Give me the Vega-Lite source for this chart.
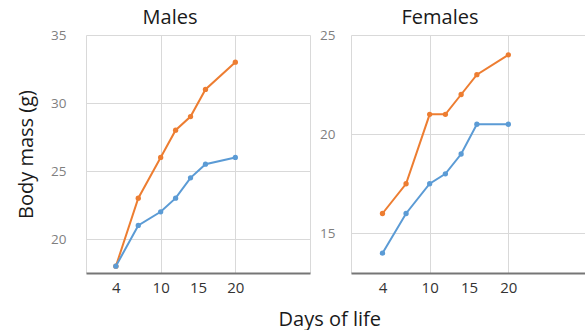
{
  "$schema": "https://vega.github.io/schema/vega-lite/v6.json",
  "background": "white",
  "padding": {"left": 16, "top": 8, "right": 0, "bottom": 0},
  "config": {
    "view": {"stroke": null},
    "font": "Open Sans",
    "concat": {"spacing": 9},
    "title": {"fontSize": 20, "fontWeight": "normal", "color": "#1a1a1a", "font": "Open Sans"},
    "axis": {"gridColor": "#d9d9d9", "gridWidth": 1, "ticks": false}
  },
  "title": {"text": "Days of life", "orient": "bottom", "anchor": "middle", "dx": 28, "offset": 15, "fontSize": 20, "fontWeight": "normal", "color": "#1a1a1a"},
  "data": {
    "values": [
      {"sex": "Males", "series": "Series 1", "day": 4, "mass": 18},
      {"sex": "Males", "series": "Series 1", "day": 7, "mass": 23},
      {"sex": "Males", "series": "Series 1", "day": 10, "mass": 26},
      {"sex": "Males", "series": "Series 1", "day": 12, "mass": 28},
      {"sex": "Males", "series": "Series 1", "day": 14, "mass": 29},
      {"sex": "Males", "series": "Series 1", "day": 16, "mass": 31},
      {"sex": "Males", "series": "Series 1", "day": 20, "mass": 33},
      {"sex": "Males", "series": "Series 2", "day": 4, "mass": 18},
      {"sex": "Males", "series": "Series 2", "day": 7, "mass": 21},
      {"sex": "Males", "series": "Series 2", "day": 10, "mass": 22},
      {"sex": "Males", "series": "Series 2", "day": 12, "mass": 23},
      {"sex": "Males", "series": "Series 2", "day": 14, "mass": 24.5},
      {"sex": "Males", "series": "Series 2", "day": 16, "mass": 25.5},
      {"sex": "Males", "series": "Series 2", "day": 20, "mass": 26},
      {"sex": "Females", "series": "Series 1", "day": 4, "mass": 16},
      {"sex": "Females", "series": "Series 1", "day": 7, "mass": 17.5},
      {"sex": "Females", "series": "Series 1", "day": 10, "mass": 21},
      {"sex": "Females", "series": "Series 1", "day": 12, "mass": 21},
      {"sex": "Females", "series": "Series 1", "day": 14, "mass": 22},
      {"sex": "Females", "series": "Series 1", "day": 16, "mass": 23},
      {"sex": "Females", "series": "Series 1", "day": 20, "mass": 24},
      {"sex": "Females", "series": "Series 2", "day": 4, "mass": 14},
      {"sex": "Females", "series": "Series 2", "day": 7, "mass": 16},
      {"sex": "Females", "series": "Series 2", "day": 10, "mass": 17.5},
      {"sex": "Females", "series": "Series 2", "day": 12, "mass": 18},
      {"sex": "Females", "series": "Series 2", "day": 14, "mass": 19},
      {"sex": "Females", "series": "Series 2", "day": 16, "mass": 20.5},
      {"sex": "Females", "series": "Series 2", "day": 20, "mass": 20.5}
    ]
  },
  "hconcat": [
    {
      "title": {"text": "Males", "anchor": "middle", "dx": -28, "offset": 0},
      "width": 224,
      "height": 238,
      "transform": [{"filter": "datum.sex == 'Males'"}],
      "mark": {"type": "line", "strokeWidth": 2, "point": {"filled": true, "size": 28}},
      "encoding": {
        "x": {
          "field": "day", "type": "quantitative",
          "scale": {"domain": [0, 30], "nice": false},
          "axis": {
            "values": [0, 4, 10, 15, 20, 30],
            "labelExpr": "datum.value == 0 || datum.value == 30 ? '' : datum.label",
            "gridOpacity": {"condition": {"test": "datum.value == 4 || datum.value == 15", "value": 0}, "value": 1},
            "domainColor": "#767676", "domainWidth": 2,
            "labelFontSize": 15, "labelColor": "#333333", "labelPadding": 7,
            "title": null
          }
        },
        "y": {
          "field": "mass", "type": "quantitative",
          "scale": {"domain": [17.5, 35], "nice": false, "zero": false},
          "axis": {
            "values": [20, 25, 30, 35], "domain": false,
            "labelFontSize": 13.5, "labelColor": "#7f7f7f", "labelPadding": 20,
            "title": "Body mass (g)", "titleFontSize": 20, "titleFontWeight": "normal", "titleColor": "#1a1a1a", "titlePadding": 14
          }
        },
        "color": {"field": "series", "type": "nominal", "scale": {"domain": ["Series 1", "Series 2"], "range": ["#ED7D31", "#5B9BD5"]}, "legend": null}
      }
    },
    {
      "title": {"text": "Females", "anchor": "middle", "dx": -29, "offset": 0},
      "width": 236,
      "height": 238,
      "transform": [{"filter": "datum.sex == 'Females'"}],
      "mark": {"type": "line", "strokeWidth": 2, "point": {"filled": true, "size": 28}},
      "encoding": {
        "x": {
          "field": "day", "type": "quantitative",
          "scale": {"domain": [0, 30], "nice": false},
          "axis": {
            "values": [0, 4, 10, 15, 20, 30],
            "labelExpr": "datum.value == 0 || datum.value == 30 ? '' : datum.label",
            "gridOpacity": {"condition": {"test": "datum.value == 4 || datum.value == 15", "value": 0}, "value": 1},
            "domainColor": "#767676", "domainWidth": 2,
            "labelFontSize": 15, "labelColor": "#333333", "labelPadding": 7,
            "title": null
          }
        },
        "y": {
          "field": "mass", "type": "quantitative",
          "scale": {"domain": [13, 25], "nice": false, "zero": false},
          "axis": {
            "values": [15, 20, 25], "domain": false,
            "labelFontSize": 13.5, "labelColor": "#7f7f7f", "labelPadding": 16,
            "title": null
          }
        },
        "color": {"field": "series", "type": "nominal", "scale": {"domain": ["Series 1", "Series 2"], "range": ["#ED7D31", "#5B9BD5"]}, "legend": null}
      }
    }
  ]
}
